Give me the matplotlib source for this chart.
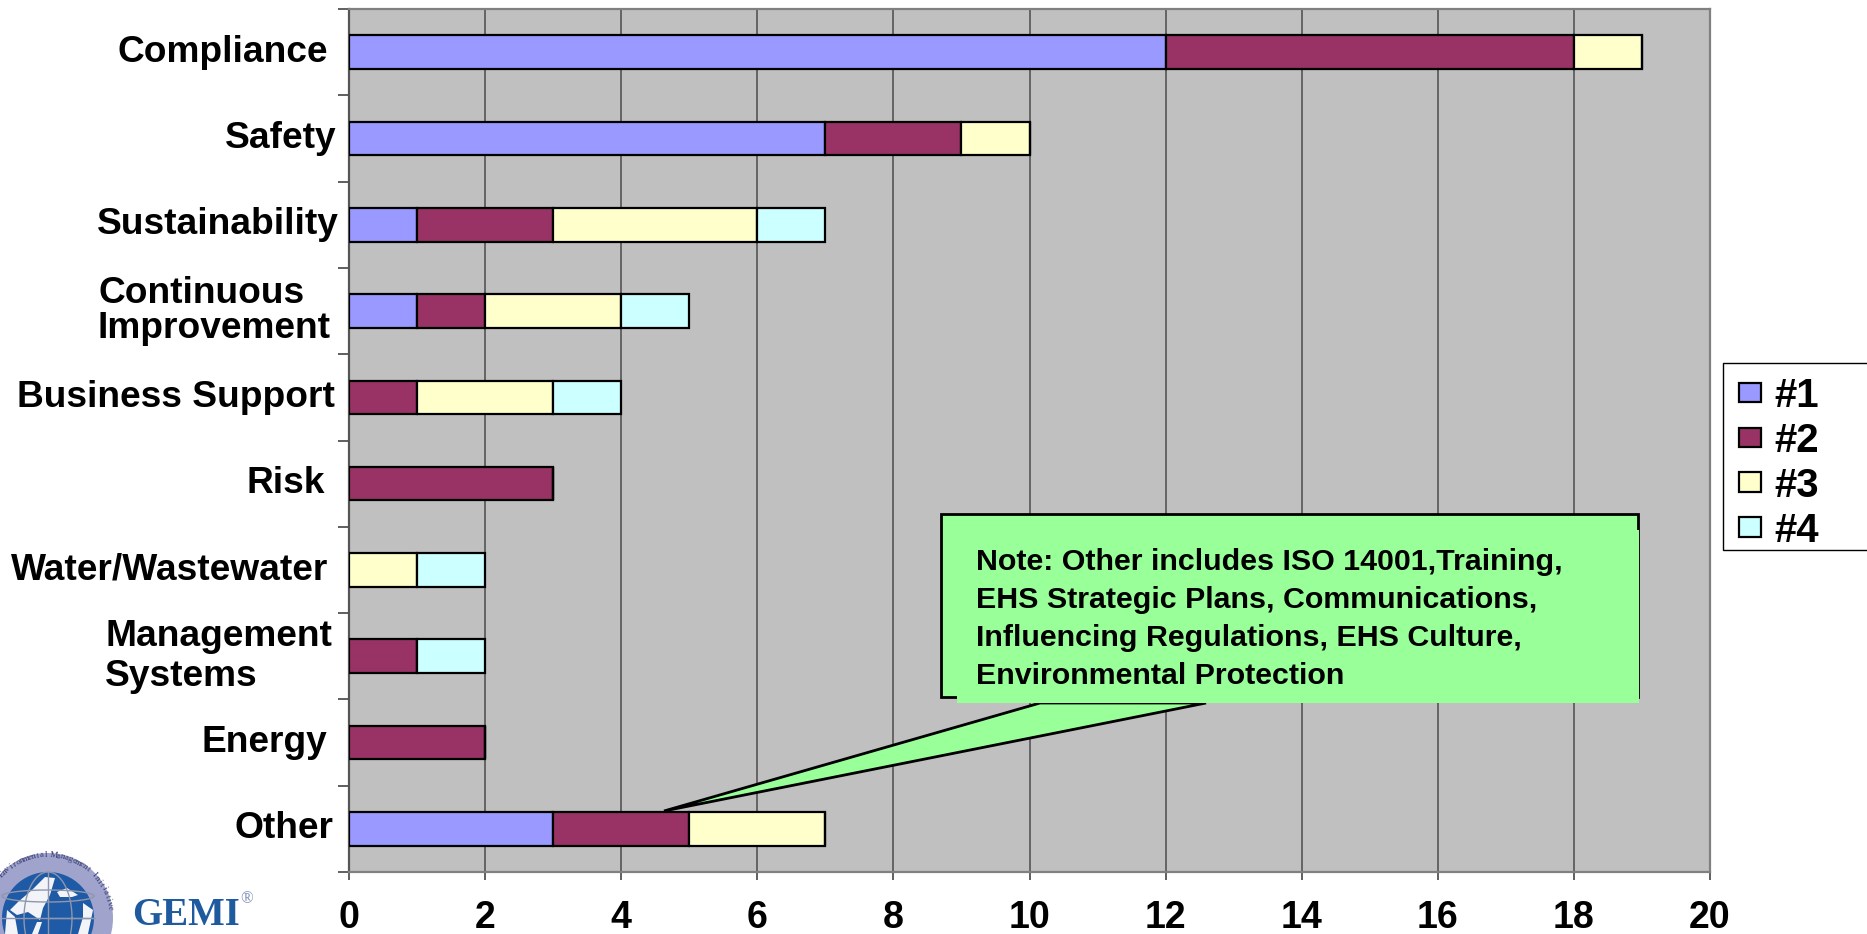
import numpy as np
import matplotlib
matplotlib.use('Agg')
import matplotlib.pyplot as plt
from matplotlib.patches import Circle, Polygon, Rectangle

plt.rcParams['font.family'] = ['Liberation Sans', 'DejaVu Sans']

W, H = 1867, 934

categories = ['Compliance', 'Safety', 'Sustainability', 'Continuous\nImprovement',
              'Business Support', 'Risk', 'Water/Wastewater', 'Management\nSystems',
              'Energy', 'Other']
rank1 = [12, 7, 1, 1, 0, 0, 0, 0, 0, 3]
rank2 = [6, 2, 2, 1, 1, 3, 0, 1, 2, 2]
rank3 = [1, 1, 3, 2, 2, 0, 1, 0, 0, 2]
rank4 = [0, 0, 1, 1, 1, 0, 1, 1, 0, 0]
series_names = ['#1', '#2', '#3', '#4']
series_colors = ['#9999FF', '#993366', '#FFFFCC', '#CCFFFF']
xticks = list(range(0, 21, 2))

note_lines = ['Note: Other includes ISO 14001,Training,',
              'EHS Strategic Plans, Communications,',
              'Influencing Regulations, EHS Culture,',
              'Environmental Protection']

# the category labels sit by hand, so each one has its own gap from the axis
label_gaps = [21, 12, 10, 18, 14, 24, 21, 17, 22, 15]
label_spacing = [1.1, 1.1, 1.1, 1.03, 1.1, 1.1, 1.1, 1.17, 1.1, 1.1]

fig = plt.figure(figsize=(W / 100, H / 100), dpi=100, facecolor='white')
ax = fig.add_axes([349 / W, 1 - 872 / H, (1710 - 349) / W, (872 - 9) / H])
ax.set_facecolor('#C0C0C0')

y = np.arange(len(categories))
left = np.zeros(len(categories))
bars = []
for vals, name, col in zip([rank1, rank2, rank3, rank4], series_names, series_colors):
    b = ax.barh(y, vals, height=0.39, left=left, color=col, edgecolor='black',
                linewidth=1.6, label=name, zorder=3)
    bars.append(b)
    left = left + np.array(vals)

ax.set_xlim(0, 20)
ax.set_ylim(len(categories) - 0.5, -0.5)
ax.set_xticks(xticks)
ax.set_xticklabels(xticks, fontsize=27, fontweight='bold')
ax.set_yticks(np.arange(len(categories) + 1) - 0.5)
ax.set_yticklabels([])
ax.tick_params(axis='x', length=6, width=1.2, color='#444444', pad=14)
ax.tick_params(axis='y', length=8, width=1.2, color='#444444')
ax.grid(axis='x', color='#555555', linewidth=1.2, zorder=1)
ax.set_axisbelow(True)
for s in ax.spines.values():
    s.set_color('#808080')
    s.set_linewidth(1.6)
ax.spines['left'].set_color('#555555')

for i, cat in enumerate(categories):
    ax.annotate(cat, xy=(0, i), xycoords='data', xytext=(-label_gaps[i] * 0.72, 0),
                textcoords='offset points', ha='right', va='center', ma='left',
                fontsize=26.7, fontweight='bold', linespacing=label_spacing[i])

# overlay in pixel units for the callout, legend box and logo
ov = fig.add_axes([0, 0, 1, 1], facecolor='none')
ov.set_xlim(0, W)
ov.set_ylim(H, 0)
ov.axis('off')

# callout: outlined box with a filled panel shifted over it, plus the pointer
ov.add_patch(Rectangle((941, 514), 697, 183, fc='#99FF99', ec='black', lw=2, zorder=5))
ov.add_patch(Polygon([(664, 811), (1040, 703), (1206, 703)], closed=True,
                     fc='#99FF99', ec='black', lw=2, zorder=5))
ov.add_patch(Rectangle((957, 530), 682, 173, fc='#99FF99', ec='none', zorder=6))
ov.add_patch(Rectangle((943, 516), 693, 30, fc='#99FF99', ec='none', zorder=6))
for line, ty in zip(note_lines, [570, 608, 646, 684]):
    ov.text(976, ty, line, fontsize=21.9, fontweight='bold', va='baseline', ha='left', zorder=7)

# legend
ov.add_patch(Rectangle((1723, 363), 150, 187, fc='white', ec='black', lw=1, zorder=4))
handles = [b[0] for b in bars]
leg = fig.legend(handles, series_names, loc='upper left',
                 bbox_to_anchor=(1739 / W, 1 - 377 / H), frameon=False,
                 prop={'size': 29, 'weight': 'bold'}, handlelength=0.55, handleheight=0.37,
                 handletextpad=0.32, labelspacing=0.17, borderpad=0, borderaxespad=0)
leg.set_zorder(10)

# GEMI logo, bottom left
cx, cy = 48, 918
ov.add_patch(Circle((cx, cy), 65, fc='#A0A3CC', ec='none', zorder=2))
globe = Circle((cx, cy), 46, fc='#1E5AA6', ec='none', zorder=3)
ov.add_patch(globe)

# ocean shapes over the blue disc, so the land stays blue
oceans = [[(18, 902), (32, 890), (45, 877), (55, 878), (50, 895), (43, 908), (40, 920), (28, 912), (17, 915), (10, 910)],
          [(83, 903), (93, 910), (88, 934), (78, 934), (83, 917)],
          [(57, 892), (67, 888), (78, 895), (72, 897), (60, 897)],
          [(37, 922), (42, 922), (38, 934), (32, 934)],
          [(7, 910), (15, 917), (18, 934), (5, 934)]]
for pts in oceans:
    sea = Polygon(pts, closed=True, fc='#F2F4F8', ec='none', zorder=3)
    ov.add_patch(sea)
    sea.set_clip_path(globe)

# graticule
for a, b in [(0, 46), (-46, 46)]:
    ov.plot([cx + a, cx + b], [cy, cy], color='#8E97AD', lw=1, zorder=4)
ov.plot([cx, cx], [cy - 46, cy + 16], color='#8E97AD', lw=1, zorder=4)
t = np.linspace(0, 2 * np.pi, 80)
ov.plot(cx + 24 * np.cos(t), cy + 46 * np.sin(t), color='#8E97AD', lw=1, zorder=4, clip_on=True)
ov.plot(cx + 46 * np.cos(t), cy - 22 + 6 * np.sin(t), color='#8E97AD', lw=1, zorder=4, clip_on=True)

# ring lettering, one character at a time along the arc
ring_text = 'Environmental Management Initiative'
angles = np.linspace(-137, -9, len(ring_text))
for ch, a in zip(ring_text, angles):
    rad = np.deg2rad(a)
    ov.text(cx + 63 * np.cos(rad), cy + 63 * np.sin(rad), ch, fontsize=6.5,
            family='Liberation Serif', color='#333A6E', rotation=-(a + 90),
            ha='center', va='center', rotation_mode='anchor', zorder=5)

ov.text(132, 925, 'GEMI', fontsize=28, family='Liberation Serif', fontweight='bold',
        color='#1F5A9E', va='baseline', ha='left', zorder=5)
ov.text(240, 903, '®', fontsize=12, family='Liberation Serif', color='#7F8FB8',
        va='baseline', ha='left', zorder=5)

fig.savefig('out.png', dpi=100, facecolor='white')
